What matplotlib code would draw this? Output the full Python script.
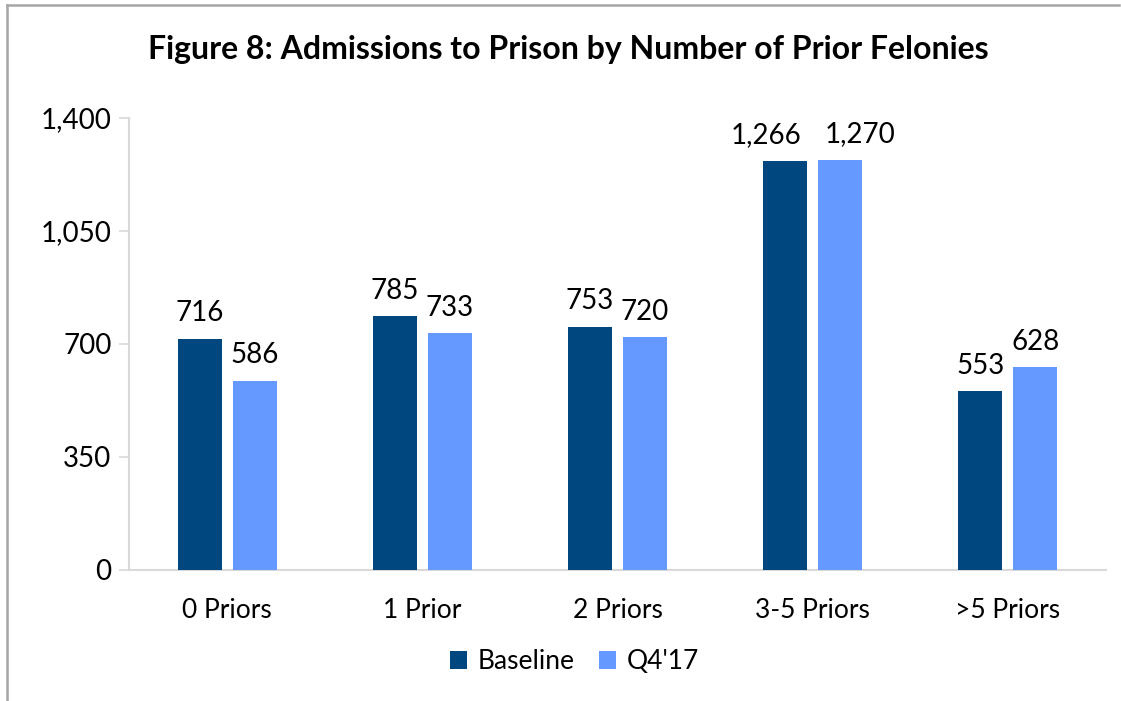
import matplotlib
matplotlib.use("Agg")
import matplotlib.pyplot as plt
import numpy as np
from matplotlib.lines import Line2D
from matplotlib.ticker import FuncFormatter

plt.rcParams["font.family"] = ["Lato", "DejaVu Sans"]

# data
categories = ["0 Priors", "1 Prior", "2 Priors", "3-5 Priors", ">5 Priors"]
baseline = [716, 785, 753, 1266, 553]
q4_17 = [586, 733, 720, 1270, 628]
series_names = ["Baseline", "Q4'17"]
y_ticks = [0, 350, 700, 1050, 1400]

DARK = "#00467F"
LIGHT = "#6699FF"

fig = plt.figure(figsize=(11.21, 7.01), dpi=100)
ax = fig.add_axes([0.1155, 0.187, 0.8707, 0.645])

x = np.arange(len(categories))
w = 0.225
off = 0.141
b1 = ax.bar(x - off, baseline, w, color=DARK, label=series_names[0], zorder=3)
b2 = ax.bar(x + off, q4_17, w, color=LIGHT, label=series_names[1], zorder=3)

# labels that would collide (wide 4-digit values) get pushed apart a bit
for side, bars in ((-1, b1), (1, b2)):
    for rect in bars:
        v = rect.get_height()
        dx = side * 14 if v >= 1000 else 0
        ax.annotate(f"{v:,.0f}", (rect.get_x() + rect.get_width() / 2, v),
                    xytext=(dx, 9), textcoords="offset points",
                    ha="center", va="bottom", fontsize=20, color="black")

ax.set_xlim(-0.5, len(categories) - 0.5)
ax.set_ylim(0, 1400)
ax.set_yticks(y_ticks)
ax.yaxis.set_major_formatter(FuncFormatter(lambda v, p: f"{v:,.0f}"))
ax.set_xticks(x)
ax.set_xticklabels(categories)

for s in ["top", "right"]:
    ax.spines[s].set_visible(False)
for s in ["left", "bottom"]:
    ax.spines[s].set_color("#d9d9d9")
    ax.spines[s].set_linewidth(1.5)
ax.tick_params(axis="y", length=7, width=1.2, color="#d9d9d9", labelsize=20, pad=6)
ax.tick_params(axis="x", length=0, labelsize=19, pad=20)

fig.text(0.507, 0.93, "Figure 8: Admissions to Prison by Number of Prior Felonies",
         ha="center", va="center", fontsize=23, fontweight="bold")

leg = fig.legend(handles=[b1, b2], labels=series_names, loc="center",
                 bbox_to_anchor=(0.5125, 0.056), ncol=2, frameon=False,
                 fontsize=19, handlelength=0.62, handleheight=0.62,
                 handletextpad=0.4, columnspacing=0.95)

# chart border (left and top edges visible)
fig.add_artist(Line2D([0.006, 0.006], [0, 0.993], transform=fig.transFigure,
                      color="#a6a6a6", linewidth=1.8))
fig.add_artist(Line2D([0.006, 0.9985], [0.993, 0.993], transform=fig.transFigure,
                      color="#a6a6a6", linewidth=1.8))

fig.savefig("out.png", dpi=100, facecolor="white")
